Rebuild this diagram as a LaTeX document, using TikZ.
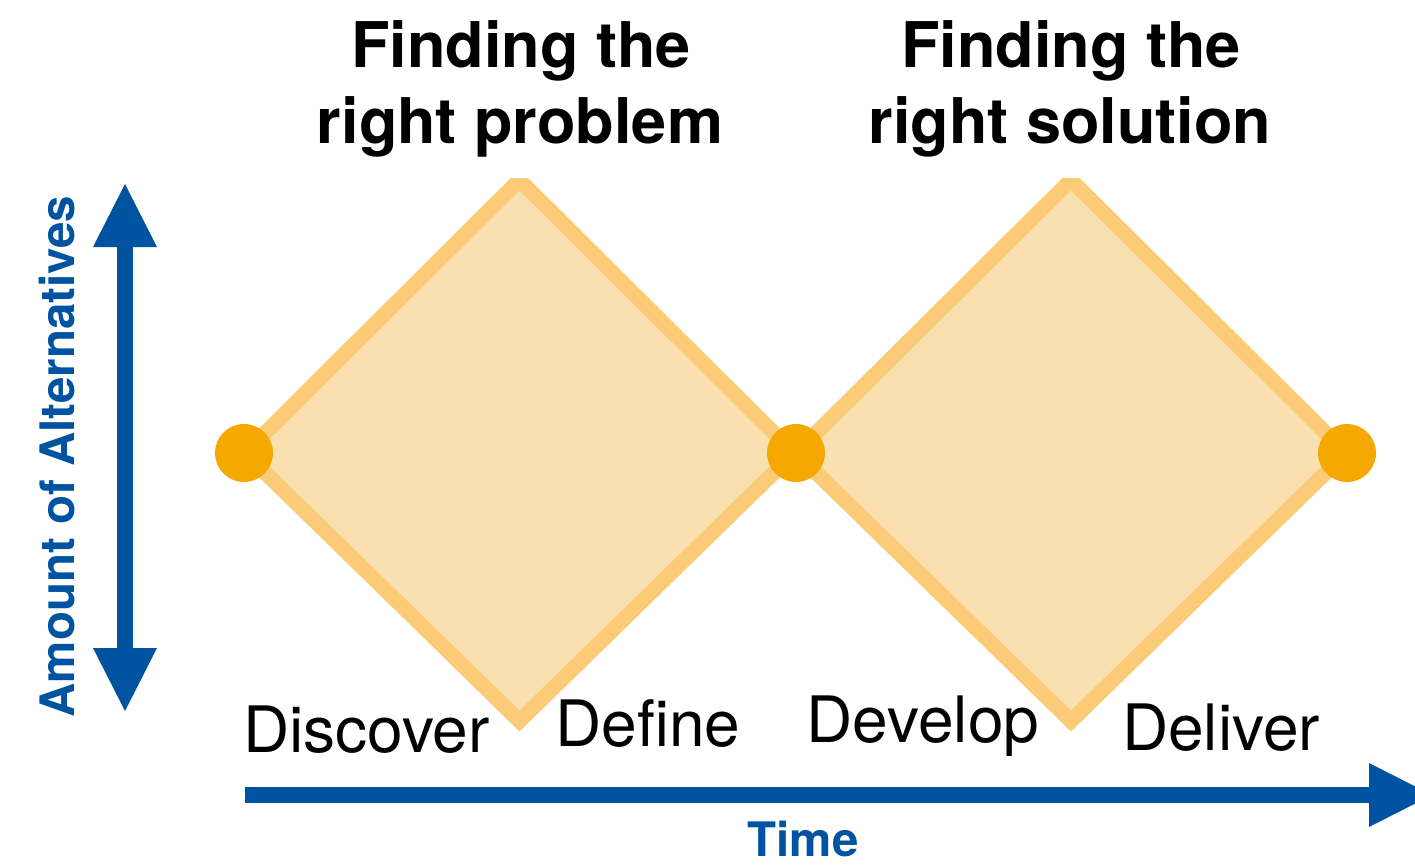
\documentclass[tikz,border=0pt]{standalone}
\usepackage{fontspec}
\setmainfont{TeX Gyre Heros}
\usetikzlibrary{arrows.meta}
\definecolor{dblue}{HTML}{0053A1}
\definecolor{dstroke}{HTML}{FBCB77}
\definecolor{dfill}{HTML}{FAE0B0}
\definecolor{ddot}{HTML}{F5A800}
\tikzset{
  diam/.style={draw=dstroke, fill=dfill, line width=15pt, line join=miter},
  dot/.style={circle, fill=ddot, minimum size=58pt, inner sep=0pt},
  axis/.style={draw=dblue, line width=16pt},
  bigtip/.tip={Triangle[length=63pt, width=64pt, line width=0pt, color=dblue]},
  title/.style={font=\fontsize{63}{75}\selectfont\bfseries, anchor=base, inner sep=0pt},
  phase/.style={font=\fontsize{64}{75}\selectfont, anchor=base, inner sep=0pt},
  axlabel/.style={font=\fontsize{47.5}{57}\selectfont\bfseries, text=dblue, anchor=base, inner sep=0pt}
}
\begin{document}
\begin{tikzpicture}[x=1pt, y=-1pt]
\useasboundingbox (0,0) rectangle (1415,865);
% diamonds
\begin{scope}
  \clip (0,178) rectangle (1415,865);
  \path[diam] (245,453) -- (519.5,180) -- (794,453) -- (519.5,721) -- cycle;
  \path[diam] (796,453) -- (1071,180) -- (1346,453) -- (1071,721) -- cycle;
\end{scope}
% dots
\node[dot] (d1) at (244,453) {};
\node[dot] (d2) at (796,453) {};
\node[dot] (d3) at (1347,453) {};
% axes
\coordinate (vtop) at (125,184);
\coordinate (vbot) at (125,711);
\coordinate (hstart) at (245,795);
\coordinate (hend) at (1432,795);
\draw[axis, bigtip-bigtip] (vbot) -- (vtop);
\draw[axis, -bigtip] (hstart) -- (hend);
% titles
\node[title] (t1a) at (521,67) {Finding the};
\node[title] (t1b) at (520,143) {right problem};
\node[title] (t2a) at (1071,67) {Finding the};
\node[title] (t2b) at (1070,143) {right solution};
% phases
\node[phase] (p1) at (366.5,752) {Discover};
\node[phase] (p2) at (648,746) {Define};
\node[phase] (p3) at (923,742) {Develop};
\node[phase] (p4) at (1221,750) {Deliver};
% axis labels
\node[axlabel, rotate=90] (ya) at (74,456.5) {Amount of Alternatives};
\node[axlabel] (xa) at (803,856) {Time};
\end{tikzpicture}
\end{document}
